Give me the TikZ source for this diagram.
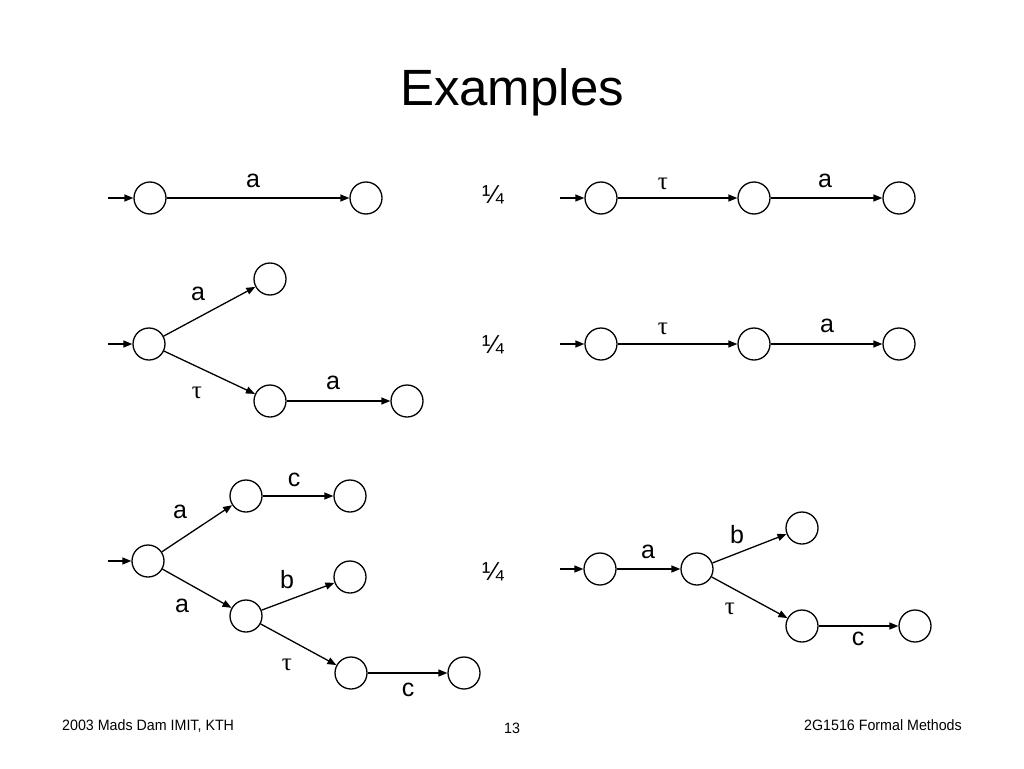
\documentclass[tikz,border=0pt]{standalone}
\usepackage{fontspec}
\setmainfont{Liberation Sans}
\newfontfamily\greekf{Liberation Serif}
\newfontfamily\narrowf[FakeStretch=0.95]{Liberation Sans}
\usetikzlibrary{arrows.meta}
\begin{document}
\begin{tikzpicture}[x=1pt,y=-1pt,
  st/.style={circle,draw,line width=1.3pt,minimum size=32pt,inner sep=0pt},
  tr/.style={line width=1.3pt,-{Triangle[length=9pt,width=7pt]}},
  lab/.style={font=\fontsize{25}{28}\selectfont,inner sep=0pt},
  tau/.style={font=\greekf\fontsize{25}{28}\selectfont,inner sep=0pt},
  eq/.style={font=\fontsize{26}{28}\selectfont,inner sep=0pt},
  foot/.style={font=\narrowf\fontsize{15}{17}\selectfont,inner sep=0pt}]
\useasboundingbox (0,0) rectangle (1024,768);
\fill[white] (0,0) rectangle (1024,768);
\node[font=\fontsize{51}{56}\selectfont,inner sep=0pt,anchor=base] (title) at (512,105) {Examples};

% Row 1 left
\node[st] (p1) at (150,198) {};
\node[st] (p2) at (366,198) {};
\coordinate (i1) at (108,198);
\draw[tr] (i1) -- (p1);
\draw[tr] (p1) -- (p2);
\node[lab] (l1) at (253,181) {a};
\node[eq] (e1) at (493,195) {¼};
% Row 1 right
\node[st] (q1) at (601,198) {};
\node[st] (q2) at (754,198) {};
\node[st] (q3) at (899,198) {};
\coordinate (j1) at (560,198);
\draw[tr] (j1) -- (q1);
\draw[tr] (q1) -- (q2);
\draw[tr] (q2) -- (q3);
\node[tau] (l2) at (663,184) {τ};
\node[lab] (l3) at (825,181) {a};

% Row 2 left
\node[st] (r1) at (149,344) {};
\node[st] (r2) at (270,279) {};
\node[st] (r3) at (270,401) {};
\node[st] (r4) at (407,401) {};
\coordinate (k1) at (108,344);
\draw[tr] (k1) -- (r1);
\draw[tr] (r1) -- (r2);
\draw[tr] (r1) -- (r3);
\draw[tr] (r3) -- (r4);
\node[lab] (l4) at (198,294) {a};
\node[tau] (l5) at (197,393) {τ};
\node[lab] (l6) at (333,383) {a};
\node[eq] (e2) at (493,345) {¼};
% Row 2 right
\node[st] (s1) at (601,344) {};
\node[st] (s2) at (754,344) {};
\node[st] (s3) at (899,344) {};
\coordinate (m1) at (560,344);
\draw[tr] (m1) -- (s1);
\draw[tr] (s1) -- (s2);
\draw[tr] (s2) -- (s3);
\node[tau] (l7) at (663,329) {τ};
\node[lab] (l8) at (827,326) {a};

% Row 3 left
\node[st] (t1) at (148,561) {};
\node[st] (t2) at (246,496) {};
\node[st] (t3) at (350,496) {};
\node[st] (t4) at (246,616) {};
\node[st] (t5) at (350,577) {};
\node[st] (t6) at (351,673) {};
\node[st] (t7) at (464,673) {};
\coordinate (n1) at (108,561);
\draw[tr] (n1) -- (t1);
\draw[tr] (t1) -- (t2);
\draw[tr] (t2) -- (t3);
\draw[tr] (t1) -- (t4);
\draw[tr] (t4) -- (t5);
\draw[tr] (t4) -- (t6);
\draw[tr] (t6) -- (t7);
\node[lab] (l9) at (294,480) {c};
\node[lab] (l10) at (180,512) {a};
\node[lab] (l11) at (287,580) {b};
\node[lab] (l12) at (182,606) {a};
\node[tau] (l13) at (287,665) {τ};
\node[lab] (l14) at (408,690) {c};
\node[eq] (e3) at (493,572) {¼};
% Row 3 right
\node[st] (u1) at (600,569) {};
\node[st] (u2) at (697,569) {};
\node[st] (u3) at (802,528) {};
\node[st] (u4) at (802,626) {};
\node[st] (u5) at (915,626) {};
\coordinate (o1) at (560,569);
\draw[tr] (o1) -- (u1);
\draw[tr] (u1) -- (u2);
\draw[tr] (u2) -- (u3);
\draw[tr] (u2) -- (u4);
\draw[tr] (u4) -- (u5);
\node[lab] (l15) at (648,552) {a};
\node[lab] (l16) at (737,535) {b};
\node[tau] (l17) at (730,609) {τ};
\node[lab] (l18) at (858,639) {c};

% Footer
\node[foot,anchor=base west] (f1) at (62,730) {2003 Mads Dam IMIT, KTH};
\node[foot,anchor=base] (f2) at (512,733) {13};
\node[foot,anchor=base east] (f3) at (962,730) {2G1516 Formal Methods};
\end{tikzpicture}
\end{document}
